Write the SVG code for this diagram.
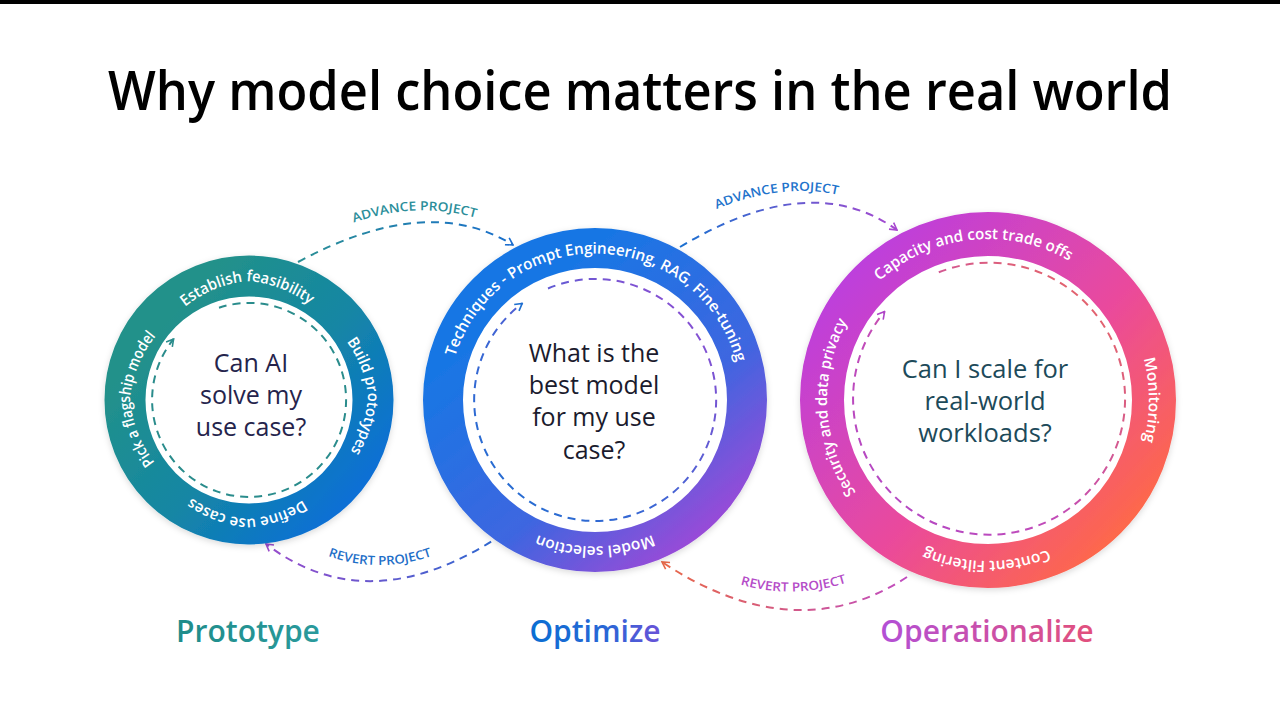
<svg xmlns="http://www.w3.org/2000/svg" width="1280" height="720" viewBox="0 0 1280 720">
<style>
.title{font-family:"Open Sans","Noto Sans",sans-serif;font-weight:600;font-size:54px;fill:#000}
.ring-label{font-family:"Open Sans","Noto Sans",sans-serif;font-weight:600;font-size:15.5px;fill:#fff}
.q{font-family:"Open Sans","Noto Sans",sans-serif;font-size:25px;text-anchor:middle}
.conn-label{font-family:"Open Sans","Noto Sans",sans-serif;font-weight:600;font-size:12.5px}
.phase{font-family:"Open Sans","Noto Sans",sans-serif;font-weight:600;font-size:30px;text-anchor:middle}
.dash{fill:none;stroke-width:2;stroke-dasharray:8 6}
</style>
<defs>
<filter id="sh" x="-20%" y="-20%" width="140%" height="140%"><feDropShadow dx="0" dy="2" stdDeviation="3" flood-color="#000" flood-opacity="0.15"/></filter>
<linearGradient id="gL" x1="0.15" y1="0.2" x2="0.95" y2="0.9"><stop offset="0" stop-color="#22918a"/><stop offset="0.5" stop-color="#1486a4"/><stop offset="1" stop-color="#0a6ed8"/></linearGradient>
<linearGradient id="gM" x1="0.25" y1="0.2" x2="0.9" y2="1"><stop offset="0" stop-color="#1976e4"/><stop offset="0.55" stop-color="#3e66e0"/><stop offset="1" stop-color="#a946d6"/></linearGradient>
<linearGradient id="gR" x1="0.1" y1="0.1" x2="0.95" y2="0.9"><stop offset="0" stop-color="#bd3fdc"/><stop offset="0.55" stop-color="#ea4a9c"/><stop offset="1" stop-color="#ff6a45"/></linearGradient>
<linearGradient id="dM" x1="1" y1="0" x2="0" y2="1"><stop offset="0" stop-color="#9c4ad2"/><stop offset="0.6" stop-color="#3b66d4"/><stop offset="1" stop-color="#1d6fd0"/></linearGradient>
<linearGradient id="dR" x1="1" y1="0" x2="0" y2="1"><stop offset="0" stop-color="#ec6a58"/><stop offset="0.6" stop-color="#c24cb8"/><stop offset="1" stop-color="#ae45c8"/></linearGradient>
<linearGradient id="a1" gradientUnits="userSpaceOnUse" x1="298" y1="0" x2="513" y2="0"><stop offset="0" stop-color="#2a8f94"/><stop offset="1" stop-color="#1a6fcc"/></linearGradient>
<linearGradient id="a2" gradientUnits="userSpaceOnUse" x1="680" y1="0" x2="897" y2="0"><stop offset="0" stop-color="#1a70d0"/><stop offset="1" stop-color="#a848d0"/></linearGradient>
<linearGradient id="a3" gradientUnits="userSpaceOnUse" x1="503" y1="0" x2="266" y2="0"><stop offset="0" stop-color="#2a68d0"/><stop offset="1" stop-color="#9a4ccc"/></linearGradient>
<linearGradient id="a4" gradientUnits="userSpaceOnUse" x1="907" y1="0" x2="662" y2="0"><stop offset="0" stop-color="#c04cc0"/><stop offset="1" stop-color="#e86848"/></linearGradient>
<linearGradient id="tP" x1="0" y1="0" x2="1" y2="0"><stop offset="0" stop-color="#1f8c8a"/><stop offset="1" stop-color="#2a9a9c"/></linearGradient>
<linearGradient id="tO" x1="0" y1="0" x2="1" y2="0"><stop offset="0" stop-color="#0a6ed2"/><stop offset="0.6" stop-color="#2a66d6"/><stop offset="1" stop-color="#6a52d8"/></linearGradient>
<linearGradient id="tOp" x1="0" y1="0" x2="1" y2="0"><stop offset="0" stop-color="#b24fd6"/><stop offset="1" stop-color="#e2507c"/></linearGradient>
<marker id="mTeal" viewBox="0 0 10 10" refX="9" refY="5" markerWidth="10" markerHeight="10" markerUnits="userSpaceOnUse" orient="auto"><path d="M2,1 L9,5 L2,9" fill="none" stroke="#2a8c8c" stroke-width="1.6"/></marker>
<marker id="mBlue" viewBox="0 0 10 10" refX="9" refY="5" markerWidth="10" markerHeight="10" markerUnits="userSpaceOnUse" orient="auto"><path d="M2,1 L9,5 L2,9" fill="none" stroke="#1d6fd0" stroke-width="1.6"/></marker>
<marker id="mPurple" viewBox="0 0 10 10" refX="9" refY="5" markerWidth="10" markerHeight="10" markerUnits="userSpaceOnUse" orient="auto"><path d="M2,1 L9,5 L2,9" fill="none" stroke="#a848d0" stroke-width="1.6"/></marker>
<marker id="mViolet" viewBox="0 0 10 10" refX="9" refY="5" markerWidth="10" markerHeight="10" markerUnits="userSpaceOnUse" orient="auto"><path d="M2,1 L9,5 L2,9" fill="none" stroke="#9a4ccc" stroke-width="1.6"/></marker>
<marker id="mOrange" viewBox="0 0 10 10" refX="9" refY="5" markerWidth="10" markerHeight="10" markerUnits="userSpaceOnUse" orient="auto"><path d="M2,1 L9,5 L2,9" fill="none" stroke="#e86848" stroke-width="1.6"/></marker>
<marker id="mMag" viewBox="0 0 10 10" refX="9" refY="5" markerWidth="10" markerHeight="10" markerUnits="userSpaceOnUse" orient="auto"><path d="M2,1 L9,5 L2,9" fill="none" stroke="#ae45c8" stroke-width="1.6"/></marker>
<path id="pL" d="M249,518 A119,119 0 0 1 249,281 A119,119 0 0 1 249,518"/>
<path id="pM" d="M595,546.5 A146.5,146.5 0 0 1 595,253.5 A146.5,146.5 0 0 1 595,546.5"/>
<path id="pR" d="M988,561 A161,161 0 0 1 988,239 A161,161 0 0 1 988,561"/>
<path id="tp1" d="M340,228 Q415,196 490,222"/>
<path id="tp2" d="M705,214 Q785,178 850,198"/>
<path id="tp3" d="M320,553 Q378,577 440,553"/>
<path id="tp4" d="M732,582 Q792,602 855,580"/>
</defs>
<rect width="1280" height="720" fill="#fff"/>
<rect width="1280" height="4" fill="#000"/>
<text class="title" x="108" y="110" textLength="1064" lengthAdjust="spacingAndGlyphs">Why model choice matters in the real world</text>

<g id="connectors">
<path class="dash" d="M298,262 Q428,192 513,245" stroke="url(#a1)" marker-end="url(#mBlue)"/>
<path class="dash" d="M680,247 Q811,168 897,230" stroke="url(#a2)" marker-end="url(#mPurple)"/>
<path class="dash" d="M503,534 Q370,623 266,544" stroke="url(#a3)" marker-end="url(#mViolet)"/>
<path class="dash" d="M907,577 Q795,650 662,562" stroke="url(#a4)" marker-end="url(#mOrange)"/>
<text class="conn-label" fill="#2b8e9a"><textPath href="#tp1" startOffset="50%" text-anchor="middle" textLength="124" lengthAdjust="spacingAndGlyphs">ADVANCE PROJECT</textPath></text>
<text class="conn-label" fill="#1f74cc"><textPath href="#tp2" startOffset="50%" text-anchor="middle" textLength="124" lengthAdjust="spacingAndGlyphs">ADVANCE PROJECT</textPath></text>
<text class="conn-label" fill="#1f6fc8"><textPath href="#tp3" startOffset="50%" text-anchor="middle" textLength="106" lengthAdjust="spacingAndGlyphs">REVERT PROJECT</textPath></text>
<text class="conn-label" fill="#b54cc8"><textPath href="#tp4" startOffset="50%" text-anchor="middle" textLength="108" lengthAdjust="spacingAndGlyphs">REVERT PROJECT</textPath></text>
</g>

<g id="prototype">
<circle cx="249" cy="400" r="124" fill="#fff" stroke="url(#gL)" stroke-width="41" filter="url(#sh)"/>
<path class="dash" d="M219,307.7 A97,97 0 1 1 173.6,339" stroke="#2a8c8c" marker-end="url(#mTeal)"/>
<text class="ring-label" transform="rotate(-1 249 400)"><textPath href="#pL" startOffset="50%" text-anchor="middle" textLength="136" lengthAdjust="spacingAndGlyphs">Establish feasibility</textPath></text>
<text class="ring-label" transform="rotate(88 249 400)"><textPath href="#pL" startOffset="50%" text-anchor="middle" textLength="118" lengthAdjust="spacingAndGlyphs">Build prototypes</textPath></text>
<text class="ring-label" transform="rotate(181 249 400)"><textPath href="#pL" startOffset="50%" text-anchor="middle" textLength="120" lengthAdjust="spacingAndGlyphs">Define use cases</textPath></text>
<text class="ring-label" transform="rotate(270.5 249 400)"><textPath href="#pL" startOffset="50%" text-anchor="middle" textLength="138" lengthAdjust="spacingAndGlyphs">Pick a flagship model</textPath></text>
<text class="q" fill="#25244c" x="251" y="372">Can AI</text>
<text class="q" fill="#25244c" x="251" y="404">solve my</text>
<text class="q" fill="#25244c" x="251" y="436">use case?</text>
<text class="phase" x="248" y="642" fill="url(#tP)">Prototype</text>
</g>

<g id="optimize">
<circle cx="595" cy="400" r="152" fill="#fff" stroke="url(#gM)" stroke-width="40" filter="url(#sh)"/>
<path class="dash" d="M548,288.5 A121,121 0 1 1 522.2,303.4" stroke="url(#dM)" marker-end="url(#mBlue)"/>
<text class="ring-label"><textPath href="#pM" startOffset="273.8" textLength="93.5" lengthAdjust="spacingAndGlyphs">Techniques -</textPath></text>
<text class="ring-label"><textPath href="#pM" startOffset="371.5" textLength="189.7" lengthAdjust="spacingAndGlyphs">Prompt Engineering, RAG,</textPath></text>
<text class="ring-label"><textPath href="#pM" startOffset="565.3" textLength="86.5" lengthAdjust="spacingAndGlyphs">Fine-tuning</textPath></text>
<text class="ring-label" transform="rotate(180 595 400)"><textPath href="#pM" startOffset="50%" text-anchor="middle" textLength="118" lengthAdjust="spacingAndGlyphs">Model selection</textPath></text>
<text class="q" fill="#1b1b2d" x="594" y="362">What is the</text>
<text class="q" fill="#1b1b2d" x="594" y="394">best model</text>
<text class="q" fill="#1b1b2d" x="594" y="426">for my use</text>
<text class="q" fill="#1b1b2d" x="594" y="459">case?</text>
<text class="phase" x="595" y="642" fill="url(#tO)">Optimize</text>
</g>

<g id="operationalize">
<circle cx="988" cy="400" r="166" fill="#fff" stroke="url(#gR)" stroke-width="44" filter="url(#sh)"/>
<path class="dash" d="M938.8,272.3 A136,136 0 1 1 884.6,311.6" stroke="url(#dR)" marker-end="url(#mMag)"/>
<text class="ring-label" transform="rotate(-6 988 400)"><textPath href="#pR" startOffset="50%" text-anchor="middle" textLength="204" lengthAdjust="spacingAndGlyphs">Capacity and cost trade offs</textPath></text>
<text class="ring-label" transform="rotate(90 988 400)"><textPath href="#pR" startOffset="50%" text-anchor="middle" textLength="84" lengthAdjust="spacingAndGlyphs">Monitoring</textPath></text>
<text class="ring-label" transform="rotate(180.5 988 400)"><textPath href="#pR" startOffset="50%" text-anchor="middle" textLength="126" lengthAdjust="spacingAndGlyphs">Content Filtering</textPath></text>
<text class="ring-label" transform="rotate(267 988 400)"><textPath href="#pR" startOffset="50%" text-anchor="middle" textLength="180" lengthAdjust="spacingAndGlyphs">Security and data privacy</textPath></text>
<text class="q" fill="#1d4a5a" x="985" y="378" style="font-size:25.5px">Can I scale for</text>
<text class="q" fill="#1d4a5a" x="985" y="410" style="font-size:25.5px">real-world</text>
<text class="q" fill="#1d4a5a" x="985" y="442" style="font-size:25.5px">workloads?</text>
<text class="phase" x="987" y="642" fill="url(#tOp)">Operationalize</text>
</g>
</svg>
